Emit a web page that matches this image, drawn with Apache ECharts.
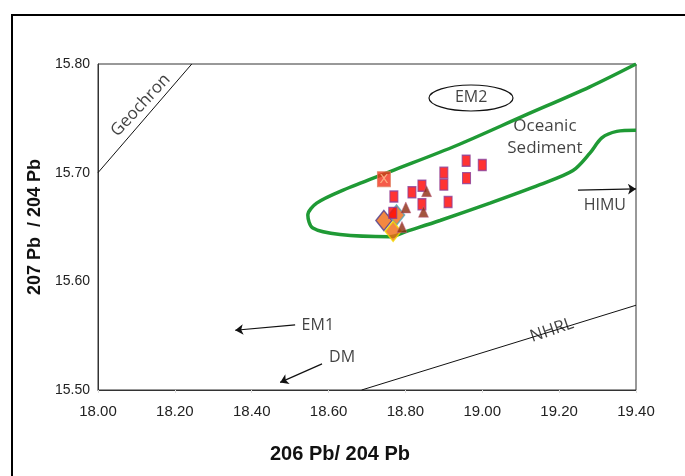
<!DOCTYPE html>
<html>
<head>
<meta charset="utf-8">
<script src="https://cdn.jsdelivr.net/npm/echarts@6/dist/echarts.min.js"></script>
<style>
  html, body { margin: 0; padding: 0; background: #fff; }
  #main { width: 685px; height: 476px; }
</style>
</head>
<body>
<div id="main"></div>
<script>
// sample groups, [206Pb/204Pb, 207Pb/204Pb]
var squares = [[18.958, 15.711], [19.000, 15.707], [18.900, 15.700], [18.959, 15.695],
  [18.900, 15.689], [18.843, 15.688], [18.817, 15.682], [18.770, 15.678],
  [18.911, 15.673], [18.843, 15.671], [18.767, 15.663]];
var crossed = [[18.744, 15.694]];
var triangles = [[18.855, 15.683], [18.801, 15.668], [18.847, 15.664], [18.791, 15.650]];
var diamonds = [[18.744, 15.656], [18.777, 15.661], [18.768, 15.646]];
var diamondBorders = ['#4b3a8c', '#4fa3b5', '#f5d800'];

// reference lines
var geochron = [[18.00, 15.70], [18.244, 15.80]];
var nhrl = [[18.686, 15.50], [19.40, 15.578]];
var envelope = [[19.40, 15.800], [19.280, 15.779], [19.106, 15.752], [18.933, 15.725],
  [18.760, 15.701], [18.638, 15.684], [18.569, 15.672], [18.546, 15.661],
  [18.559, 15.649], [18.630, 15.643], [18.760, 15.641], [18.803, 15.646],
  [18.890, 15.656], [19.020, 15.672], [19.150, 15.689], [19.236, 15.702],
  [19.280, 15.718], [19.311, 15.732], [19.350, 15.738], [19.40, 15.739]];

// end-member arrows
var arrows = [
  {coords: [[18.513, 15.560], [18.357, 15.555]]},
  {coords: [[18.583, 15.524], [18.474, 15.507]]},
  {coords: [[19.249, 15.684], [19.400, 15.685]]}
];
var labels = [
  {name: 'Geochron', value: [18.111, 15.762], rotate: 47, size: 17},
  {name: 'NHRL', value: [19.181, 15.555], rotate: 19, size: 17},
  {name: 'EM2', value: [18.971, 15.769], rotate: 0, size: 16},
  {name: 'Oceanic\nSediment', value: [19.163, 15.733], rotate: 0, size: 17},
  {name: 'HIMU', value: [19.319, 15.670], rotate: 0, size: 16},
  {name: 'EM1', value: [18.572, 15.559], rotate: 0, size: 16},
  {name: 'DM', value: [18.635, 15.530], rotate: 0, size: 16}
];
var xTicks = [18.00, 19.40, 0.2];
var yTicks = [15.50, 15.80, 0.1];

var myChart = echarts.init(document.getElementById('main'));
var option = {
  animation: false,
  backgroundColor: '#fff',
  grid: {left: 98, right: 49, top: 64, bottom: 86, show: true, borderColor: '#333', borderWidth: 1},
  xAxis: {
    type: 'value', min: xTicks[0], max: xTicks[1], interval: xTicks[2],
    name: '206 Pb/ 204 Pb', nameLocation: 'middle', nameGap: 54,
    nameTextStyle: {fontFamily: 'Liberation Sans', fontWeight: 'bold', fontSize: 20, color: '#111',
      padding: [0, 54, 0, 0]},
    axisLine: {lineStyle: {color: '#333'}},
    axisTick: {show: true, length: 3, lineStyle: {color: '#ddd'}},
    splitLine: {show: false},
    axisLabel: {margin: 14, fontFamily: 'Liberation Sans', fontSize: 15, color: '#222',
      formatter: function (v) { return v.toFixed(2); }}
  },
  yAxis: {
    type: 'value', min: yTicks[0], max: yTicks[1], interval: yTicks[2],
    name: '207 Pb  / 204 Pb', nameLocation: 'middle', nameGap: 52, nameRotate: 90,
    nameTextStyle: {fontFamily: 'Liberation Sans', fontWeight: 'bold', fontSize: 18, color: '#111'},
    axisLine: {show: true, lineStyle: {color: '#333'}},
    axisTick: {show: false},
    splitLine: {show: false},
    axisLabel: {margin: 8, fontFamily: 'Liberation Sans', fontSize: 14, color: '#222',
      formatter: function (v) { return v.toFixed(2); }}
  },
  graphic: [
    {type: 'rect', shape: {x: 12, y: 15, width: 720, height: 520},
      style: {fill: 'none', stroke: '#000', lineWidth: 2}, silent: true},
    {type: 'ellipse', shape: {cx: 471, cy: 98, rx: 42, ry: 13},
      style: {fill: 'none', stroke: '#111', lineWidth: 1.2}, silent: true}
  ],
  series: [
    {type: 'line', data: geochron, symbol: 'none', lineStyle: {color: '#111', width: 1}},
    {type: 'line', data: nhrl, symbol: 'none', lineStyle: {color: '#111', width: 1}},
    {type: 'line', data: envelope, symbol: 'none', smooth: 0.3,
      lineStyle: {color: '#1f9a35', width: 3.5}},
    {type: 'lines', coordinateSystem: 'cartesian2d', data: arrows,
      symbol: ['none', 'arrow'], symbolSize: 8, lineStyle: {color: '#111', width: 1.2, opacity: 1}},
    {type: 'scatter', symbolSize: 0,
      data: labels.map(function (l) {
        return {name: l.name, value: l.value, label: {rotate: l.rotate, fontSize: l.size}};
      }),
      label: {show: true, position: 'inside', fontFamily: 'Open Sans',
        color: '#111', lineHeight: 22,
        formatter: function (p) { return p.name; }}
    },
    {type: 'scatter', z: 3, data: diamonds.map(function (d, i) {
        return {value: d, itemStyle: {borderColor: diamondBorders[i]}};
      }),
      symbol: 'diamond', symbolSize: [16, 20],
      itemStyle: {color: '#f06a12', borderWidth: 1.5}},
    {type: 'scatter', z: 4, data: squares, symbol: 'rect', symbolSize: [8, 11],
      itemStyle: {color: '#f00', borderColor: '#8a3f9a', borderWidth: 1.2}},
    {type: 'scatter', z: 4, data: triangles, symbol: 'triangle', symbolSize: [10, 11],
      itemStyle: {color: '#8c2b0f', borderColor: '#c0608a', borderWidth: 0.6}},
    {type: 'scatter', z: 4, data: crossed, symbol: 'rect', symbolSize: [13, 15],
      itemStyle: {color: '#f2321c', borderColor: '#e08060', borderWidth: 1},
      label: {show: true, position: 'inside', formatter: 'X', color: '#ffc090',
        fontSize: 13, fontFamily: 'DejaVu Sans'}}
  ]
};
myChart.setOption(option);
</script>
</body>
</html>
